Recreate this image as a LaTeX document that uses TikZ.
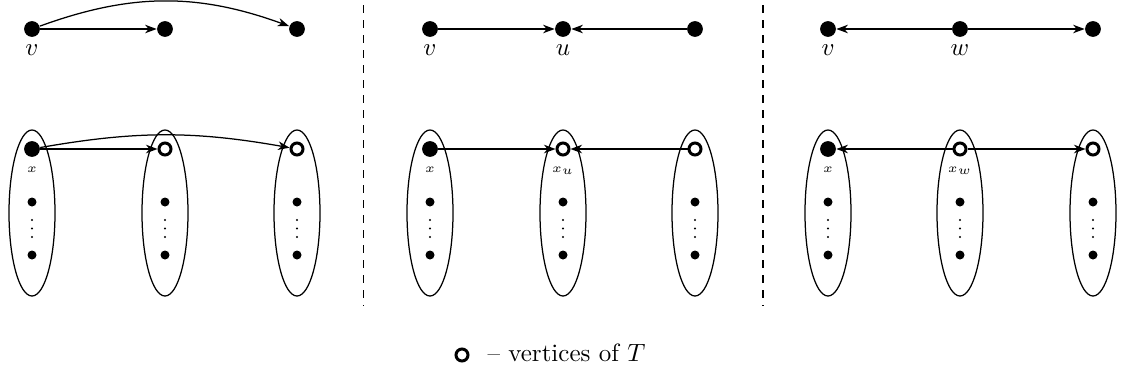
\documentclass[tikz,border=0pt]{standalone}
\usetikzlibrary{arrows.meta}
\begin{document}
\begin{tikzpicture}[x=0.4pt,y=-0.4pt,
  big/.style={circle,fill=black,inner sep=0pt,minimum size=6.3pt},
  sdot/.style={circle,fill=black,inner sep=0pt,minimum size=3.6pt},
  tdot/.style={circle,fill=black,inner sep=0pt,minimum size=0.9pt},
  opn/.style={circle,draw=black,fill=white,line width=1.2pt,inner sep=0pt,minimum size=4.8pt},
  lab/.style={anchor=base,inner sep=0pt},
  slab/.style={anchor=base,inner sep=0pt,font=\tiny},
  arr/.style={-{Stealth[length=4.6pt,width=3.4pt,inset=1.4pt]},line width=0.5pt},
  grp/.style={line width=0.5pt},
  sep/.style={dashed,line width=0.5pt}]
\useasboundingbox (0,0) rectangle (1121,374);

% separators
\draw[sep] (363.5,5) -- (363.5,306);
\draw[sep] (763,5) -- (763,306);

% ellipses and inner dots
\foreach \cx/\nm in {32/a,165/b,297/c,430/d,563/e,695/f,828/g,960/h,1093/i}{
  \draw[grp] (\cx,213) ellipse [x radius=23,y radius=83];
  \node[sdot] (\nm1) at (\cx,202) {};
  \node[sdot] (\nm2) at (\cx,255) {};
  \node[tdot] (\nm3) at (\cx,220) {};
  \node[tdot] (\nm4) at (\cx,228.5) {};
  \node[tdot] (\nm5) at (\cx,237) {};
}

% ---------- panel 1 ----------
\node[big] (p1v) at (32,29) {};
\node[big] (p1b) at (165,29) {};
\node[big] (p1c) at (297,29) {};
\node[lab] (p1vl) at (32,55) {$v$};
\draw[arr] (p1v) -- (p1b);
\draw[arr] (p1v) to[bend left=20] (p1c);

\node[big] (q1x) at (32,149) {};
\node[opn] (q1b) at (165,149) {};
\node[opn] (q1c) at (297,149) {};
\node[slab] (q1xl) at (32,172) {$x$};
\draw[arr] (q1x) -- (q1b);
\draw[arr] (q1x) to[bend left=10] (q1c);

% ---------- panel 2 ----------
\node[big] (p2v) at (430,29) {};
\node[big] (p2u) at (563,29) {};
\node[big] (p2c) at (695,29) {};
\node[lab] (p2vl) at (430,55) {$v$};
\node[lab] (p2ul) at (563,55) {$u$};
\draw[arr] (p2v) -- (p2u);
\draw[arr] (p2c) -- (p2u);

\node[big] (q2x) at (430,149) {};
\node[opn] (q2u) at (563,149) {};
\node[opn] (q2c) at (695,149) {};
\node[slab] (q2xl) at (430,172) {$x$};
\node[slab] (q2ul) at (563,172) {$x_u$};
\draw[arr] (q2x) -- (q2u);
\draw[arr] (q2c) -- (q2u);

% ---------- panel 3 ----------
\node[big] (p3v) at (828,29) {};
\node[big] (p3w) at (960,29) {};
\node[big] (p3c) at (1093,29) {};
\node[lab] (p3vl) at (828,55) {$v$};
\node[lab] (p3wl) at (960,55) {$w$};
\draw[arr] (p3w) -- (p3v);
\draw[arr] (p3w) -- (p3c);

\node[big] (q3x) at (828,149) {};
\node[opn] (q3w) at (960,149) {};
\node[opn] (q3c) at (1093,149) {};
\node[slab] (q3xl) at (828,172) {$x$};
\node[slab] (q3wl) at (960,172) {$x_w$};
\draw[arr] (q3w) -- (q3x);
\draw[arr] (q3w) -- (q3c);

% legend
\node[opn] (leg) at (462,355) {};
\node[anchor=base west,inner sep=0pt] (legt) at (487,361.5) {-- vertices of $T$};
\end{tikzpicture}
\end{document}
